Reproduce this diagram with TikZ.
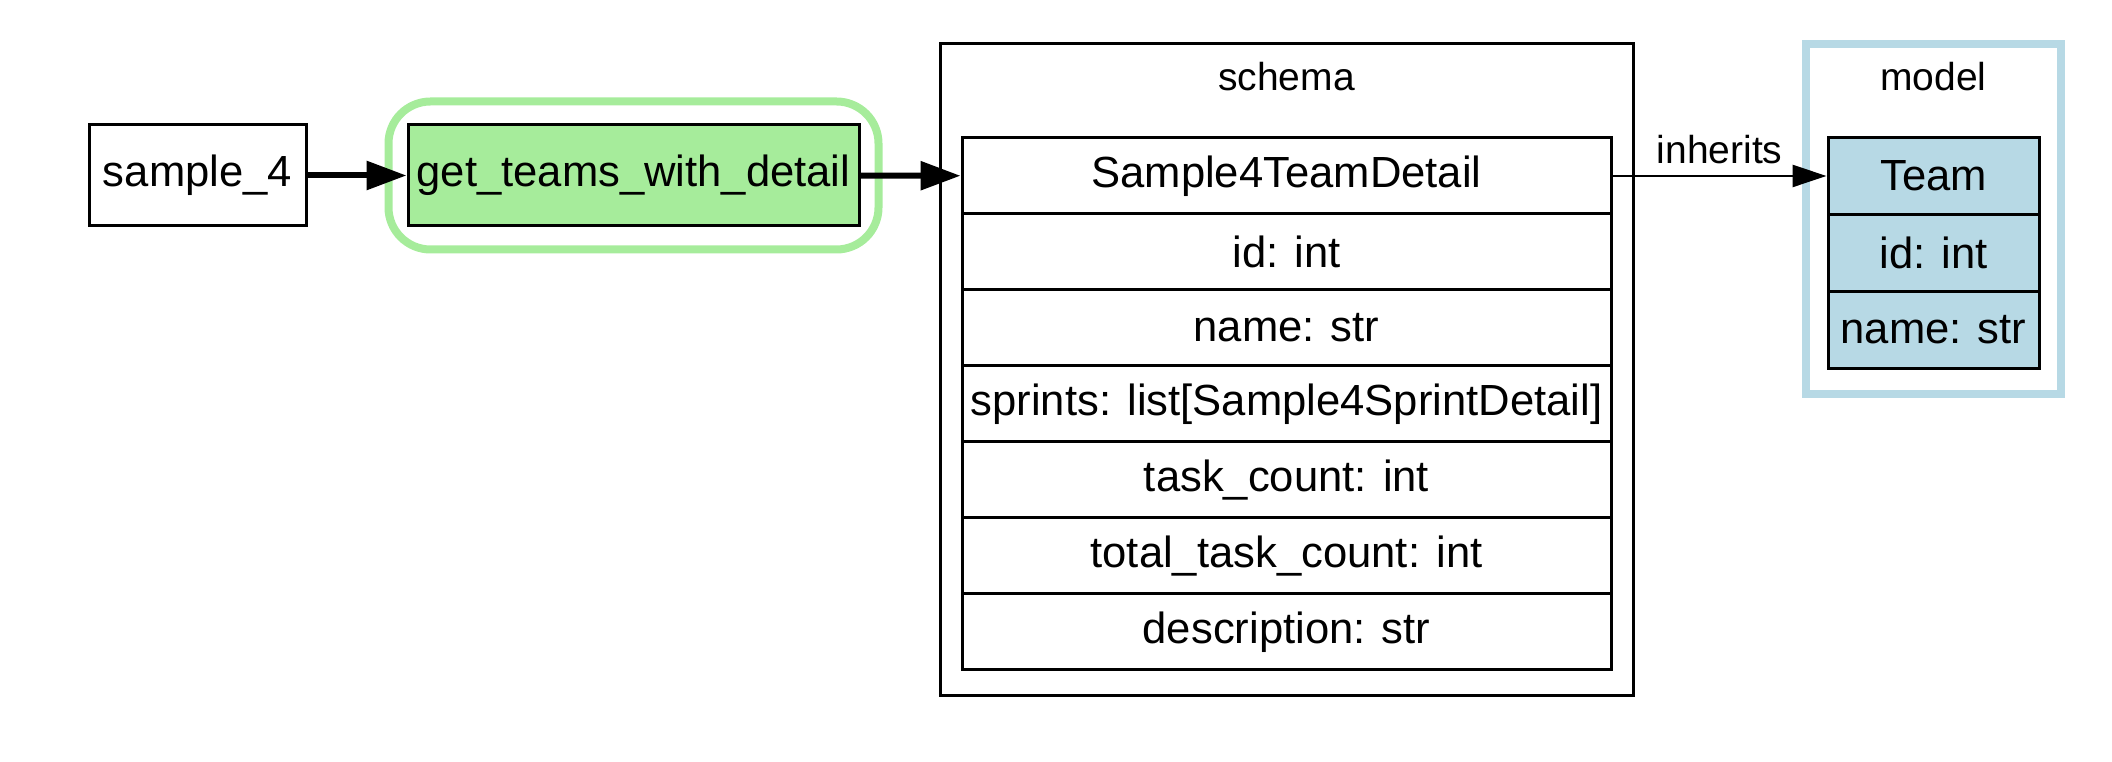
\documentclass[tikz,border=0pt]{standalone}
\usepackage{fontspec}
\setmainfont{Liberation Sans}
\usetikzlibrary{arrows.meta,fit}

\definecolor{fngreen}{HTML}{A6EC9B}
\definecolor{modelblue}{HTML}{B7D9E5}

\tikzset{
  box/.style={draw, line width=3pt, minimum height=101pt, inner sep=0pt,
    font=\fontsize{43.6}{50}\selectfont}, % plain node box
  field/.style={box, minimum height=76pt, minimum width=649pt}, % schema row
  mfield/.style={box, fill=modelblue, minimum height=77pt, minimum width=211pt}, % model row
  cluster/.style={draw, line width=3pt}, % cluster frame
  cluster label/.style={font=\fontsize{39}{45}\selectfont}, % cluster title
  flow/.style={line width=6pt, -{Triangle[length=40pt,width=28pt]}}, % call arrow
  inherit/.style={line width=2.5pt, -{Triangle[length=34pt,width=22pt]}} % inherits arrow
}

\begin{document}
\begin{tikzpicture}[x=1pt,y=1pt]
    \useasboundingbox (0,0) rectangle (2112,762);

    % clusters
    \draw[cluster] (940,718) rectangle (1633,66);
    \node[cluster label] (schemalbl) at (1286.5,685) {schema};
    \draw[modelblue, line width=8pt] (1806,718) rectangle (2061,368);
    \node[cluster label] (modellbl) at (1933.5,685) {model};

    % route and function
    \node[box, minimum width=217pt] (sample) at (197.5,586.5) {sample\_4};
    \node[box, fill=fngreen, minimum width=451pt] (get) at (633.5,586.5) {get\_teams\_with\_detail};
    \node[draw=fngreen, line width=8pt, rounded corners=42pt, inner xsep=18pt, inner ysep=22pt,
      fit=(get)] (halo) {};

    % schema fields
    \foreach \txt [count=\i] in {Sample4TeamDetail, id: int, name: str,
        {sprints: list[Sample4SprintDetail]}, task\_count: int,
        total\_task\_count: int, description: str} {
      \node[field] (s\i) at (1286.5,{586-76*(\i-1)}) {\txt};
    }

    % model fields
    \foreach \txt [count=\i] in {Team, id: int, name: str} {
      \node[mfield] (t\i) at (1933.5,{586-77*(\i-1)}) {\txt};
    }

    \draw[flow] (sample) -- (get);
    \draw[flow] (get) -- (s1);
    \draw[inherit] (s1.east) -- (t1.west)
      node[midway, above=8pt, cluster label] (inh) {inherits};
\end{tikzpicture}
\end{document}
